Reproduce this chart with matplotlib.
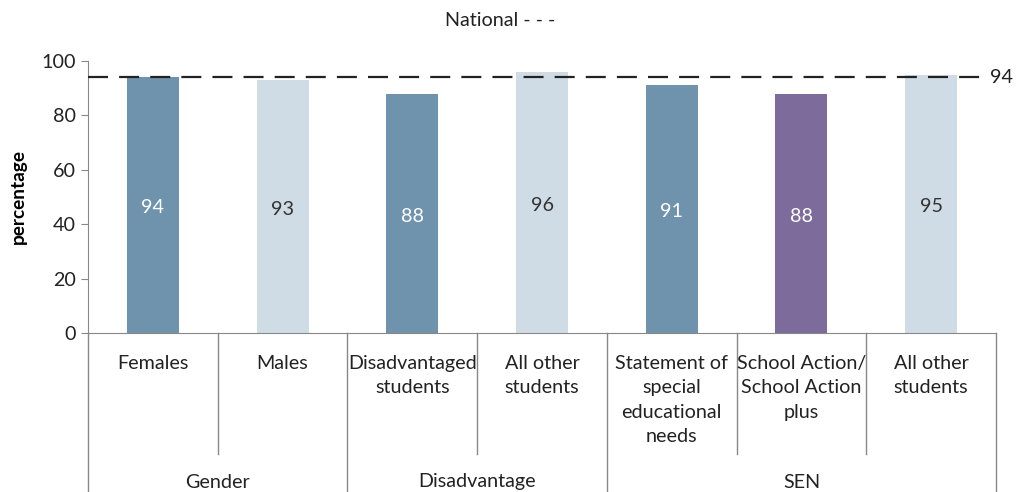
import matplotlib
matplotlib.use("Agg")
import matplotlib.pyplot as plt
from matplotlib.transforms import blended_transform_factory

plt.rcParams['font.family'] = ['Lato', 'DejaVu Sans']

categories = ["Females", "Males", "Disadvantaged\nstudents", "All other\nstudents",
              "Statement of\nspecial\neducational\nneeds", "School Action/\nSchool Action\nplus",
              "All other\nstudents"]
values = [94, 93, 88, 96, 91, 88, 95]
groups = ["Gender", "Disadvantage", "SEN"]
group_sizes = [2, 2, 3]
national = 94
yticks = [0, 20, 40, 60, 80, 100]

dark = "#6f93ad"
light = "#cfdce5"
purple = "#7d6b9b"
colors = [dark, light, dark, light, dark, purple, light]
label_colors = ["white", "#333333", "white", "#333333", "white", "white", "#333333"]

FS = 14.2
fig = plt.figure(figsize=(10.16, 4.92), dpi=100)
ax = fig.add_axes([88/1016, 1-333/492, (996-88)/1016, (333-61)/492])

x = list(range(len(values)))
bars = ax.bar(x, values, width=0.4, color=colors, zorder=2)
ax.set_xlim(-0.5, len(values)-0.5)
ax.set_ylim(0, 100)
ax.set_yticks(yticks)
ax.tick_params(axis='y', direction='out', length=5, color="#888888", labelsize=FS,
               labelcolor="#222222", pad=4)
ax.set_xticks([])
for s in ['top', 'right']:
    ax.spines[s].set_visible(False)
ax.spines['left'].set_color("#888888")
ax.spines['bottom'].set_color("#888888")
ax.set_ylabel("percentage", fontsize=FS-0.5, fontweight='bold', labelpad=10)

for xi, v, lc in zip(x, values, label_colors):
    ax.text(xi, v/2 - 1, str(v), ha='center', va='center', color=lc, fontsize=FS, zorder=3)

ax.axhline(national, xmax=(985-88)/908, color="#222222", lw=1.6, dashes=(9, 5), zorder=4)
ax.text(len(values)-0.5 - 6/129.7, national, str(national), ha='left', va='center',
        fontsize=FS, color="#222222", clip_on=False, zorder=5)

fig.text(500/1016, 1-20/492, "National - - -", ha='center', va='center', fontsize=FS,
         color="#222222")

# Multi-level category axis
tr = blended_transform_factory(ax.transData, ax.transAxes)
axh = 272.0
inner_bottom = -(454-333)/axh
outer_bottom = -(492-333)/axh
for xi, cat in zip(x, categories):
    ax.text(xi, -22/axh, cat, transform=tr, ha='center', va='top', fontsize=FS,
            color="#222222", linespacing=1.52, clip_on=False)

start = 0
boundaries_outer = [-0.5]
for g, n in zip(groups, group_sizes):
    center = start + (n-1)/2
    ax.text(center, -(482-333)/axh, g, transform=tr, ha='center', va='center',
            fontsize=FS, color="#222222", clip_on=False)
    for k in range(1, n):
        bx = start + k - 0.5
        ax.plot([bx, bx], [0, inner_bottom], transform=tr, color="#888888", lw=1,
                clip_on=False)
    start += n
    boundaries_outer.append(start - 0.5)
for bx in boundaries_outer:
    ax.plot([bx, bx], [0, outer_bottom], transform=tr, color="#888888", lw=1,
            clip_on=False)

fig.savefig("out.png", dpi=100)
